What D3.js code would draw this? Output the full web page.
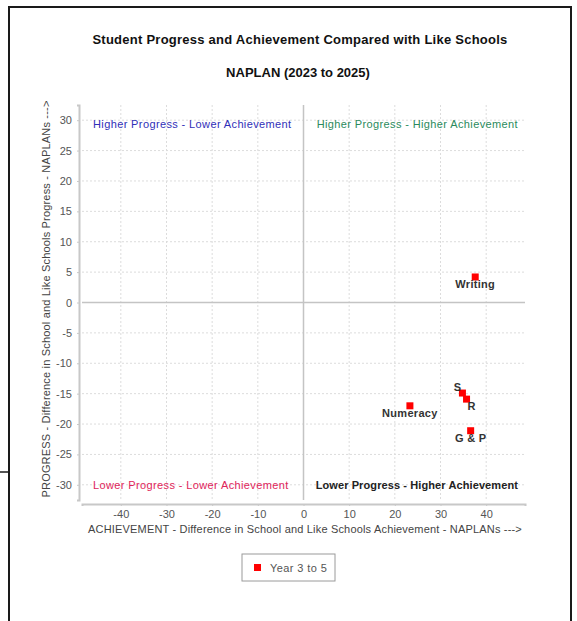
<!DOCTYPE html>
<html>
<head>
<meta charset="utf-8">
<script src="https://cdn.jsdelivr.net/npm/d3@7"></script>
<style>
  body { margin: 0; background: #fff; }
  svg { display: block; font-family: "Liberation Sans", Arial, sans-serif; }
</style>
</head>
<body>
<div id="vis"></div>
<script>
// data
const areas = ["Writing", "S", "R", "Numeracy", "G & P"]
const achievement = [37.6, 34.8, 35.7, 23.3, 36.6]   // x
const progress = [4.2, -14.9, -15.9, -17.0, -21.1]   // y
const labelSide = ["below", "aboveLeft", "belowRight", "below", "below"]

const xTicks = [-40, -30, -20, -10, 0, 10, 20, 30, 40]
const yTicks = [30, 25, 20, 15, 10, 5, 0, -5, -10, -15, -20, -25, -30]

const seriesName = "Year 3 to 5"
const quadrants = [
  { text: "Higher Progress - Lower Achievement", x: "left", y: 29.4, color: "#2f2fb8", weight: "normal" },
  { text: "Higher Progress - Higher Achievement", x: "right", y: 29.4, color: "#2a8a5c", weight: "normal" },
  { text: "Lower Progress - Lower Achievement", x: "left", y: -30, color: "#e0245a", weight: "normal" },
  { text: "Lower Progress - Higher Achievement", x: "right", y: -30, color: "#222", weight: "bold" }
]

const W = 577, H = 621
const plot = { left: 82, right: 525, top: 105, bottom: 500 }

const svg = d3.select("#vis").append("svg")
  .attr("width", W)
  .attr("height", H)

// outer frame (bottom edge runs off the page)
svg.append("rect")
  .attr("x", 9).attr("y", 7)
  .attr("width", 562).attr("height", 640)
  .attr("fill", "none")
  .attr("stroke", "#1a1a1a")
  .attr("stroke-width", 2)
svg.append("line")
  .attr("x1", 0).attr("x2", 9)
  .attr("y1", 472).attr("y2", 472)
  .attr("stroke", "#1a1a1a")
  .attr("stroke-width", 1.5)

// titles
svg.append("text")
  .attr("x", 300).attr("y", 44)
  .attr("text-anchor", "middle")
  .style("font-size", "13px").style("font-weight", "bold")
  .style("letter-spacing", "0.25px")
  .attr("fill", "#111")
  .text("Student Progress and Achievement Compared with Like Schools")
svg.append("text")
  .attr("x", 298).attr("y", 77)
  .attr("text-anchor", "middle")
  .style("font-size", "13px").style("font-weight", "bold")
  .attr("fill", "#111")
  .text("NAPLAN (2023 to 2025)")

var x = d3.scaleLinear().domain([-48.5, 48.5]).range([plot.left, plot.right])
var y = d3.scaleLinear().domain([-32.5, 32.5]).range([plot.bottom, plot.top])

var g = svg.append("g")

// dashed grid
g.append("g").selectAll("line")
  .data(xTicks.filter(d => d !== 0))
  .enter().append("line")
    .attr("x1", d => x(d)).attr("x2", d => x(d))
    .attr("y1", plot.top).attr("y2", plot.bottom)
    .attr("stroke", "#dcdcdc")
    .attr("stroke-dasharray", "2,2")
g.append("g").selectAll("line")
  .data(yTicks.filter(d => d !== 0))
  .enter().append("line")
    .attr("y1", d => y(d)).attr("y2", d => y(d))
    .attr("x1", plot.left).attr("x2", plot.right)
    .attr("stroke", "#dcdcdc")
    .attr("stroke-dasharray", "2,2")

// zero cross
g.append("line")
  .attr("x1", x(0)).attr("x2", x(0))
  .attr("y1", plot.top).attr("y2", plot.bottom)
  .attr("stroke", "#c4c4c4").attr("stroke-width", 1.5)
g.append("line")
  .attr("y1", y(0)).attr("y2", y(0))
  .attr("x1", plot.left).attr("x2", plot.right)
  .attr("stroke", "#c4c4c4").attr("stroke-width", 1.5)

// axes, offset a few px from the plot like the original
var xAxis = svg.append("g")
  .attr("transform", "translate(0," + (plot.bottom + 4) + ")")
  .call(d3.axisBottom(x).tickValues(xTicks).tickFormat(d => String(d)).tickSize(2).tickPadding(4))
var yAxis = svg.append("g")
  .attr("transform", "translate(" + (plot.left - 3) + ",0)")
  .call(d3.axisLeft(y).tickValues(yTicks).tickFormat(d => String(d)).tickSize(2).tickPadding(5))

;[xAxis, yAxis].forEach(a => {
  a.select(".domain").attr("stroke", "#c8c8c8").attr("stroke-width", 2)
  a.selectAll(".tick line").attr("stroke", "#c8c8c8")
  a.selectAll(".tick text")
    .attr("fill", "#555")
    .style("font-size", "11px")
    .style("font-family", "Liberation Sans, Arial, sans-serif")
})

// axis titles
svg.append("text")
  .attr("x", 305).attr("y", 533)
  .attr("text-anchor", "middle")
  .style("font-size", "11px").style("letter-spacing", "0.18px")
  .attr("fill", "#444")
  .text("ACHIEVEMENT - Difference in School and Like Schools Achievement - NAPLANs  --->")
svg.append("text")
  .attr("transform", "translate(50," + 299 + ") rotate(-90)")
  .attr("text-anchor", "middle")
  .style("font-size", "11px").style("letter-spacing", "0.18px")
  .attr("fill", "#444")
  .text("PROGRESS - Difference in School and Like Schools Progress - NAPLANs  --->")

// quadrant captions
g.append("g").selectAll("text")
  .data(quadrants)
  .enter().append("text")
    .attr("x", d => d.x === "left" ? plot.left + 11 : plot.right - 7)
    .attr("y", d => y(d.y))
    .attr("dy", "0.35em")
    .attr("text-anchor", d => d.x === "left" ? "start" : "end")
    .attr("fill", d => d.color)
    .style("font-weight", d => d.weight)
    .style("font-size", "11px")
    .style("letter-spacing", d => d.weight === "bold" ? "0.1px" : "0.38px")
    .text(d => d.text)

// points
var pts = areas.map((a, i) => ({ name: a, ax: achievement[i], pr: progress[i], side: labelSide[i] }))

g.append("g").selectAll("rect")
  .data(pts)
  .enter().append("rect")
    .attr("x", d => x(d.ax) - 3.5)
    .attr("y", d => y(d.pr) - 3.5)
    .attr("width", 7).attr("height", 7)
    .attr("fill", "#ff0000")

g.append("g").selectAll("text")
  .data(pts)
  .enter().append("text")
    .attr("x", d => x(d.ax) + (d.side === "aboveLeft" ? -1 : d.side === "belowRight" ? 1 : 0))
    .attr("y", d => y(d.pr) + (d.side === "aboveLeft" ? -2.5 : 11))
    .attr("text-anchor", d => d.side === "aboveLeft" ? "end" : d.side === "belowRight" ? "start" : "middle")
    .attr("fill", "#333")
    .style("font-size", "11px").style("font-weight", "bold")
    .style("letter-spacing", "0.3px")
    .text(d => d.name)

// legend
var legend = svg.append("g").attr("transform", "translate(242,554)")
legend.append("rect")
  .attr("width", 93).attr("height", 27)
  .attr("fill", "#fff").attr("stroke", "#9a9a9a")
legend.append("rect")
  .attr("x", 12).attr("y", 10)
  .attr("width", 7).attr("height", 7)
  .attr("fill", "#ff0000")
legend.append("text")
  .attr("x", 28).attr("y", 18)
  .attr("fill", "#555")
  .style("font-size", "11px").style("letter-spacing", "0.4px")
  .text(seriesName)
</script>
</body>
</html>
